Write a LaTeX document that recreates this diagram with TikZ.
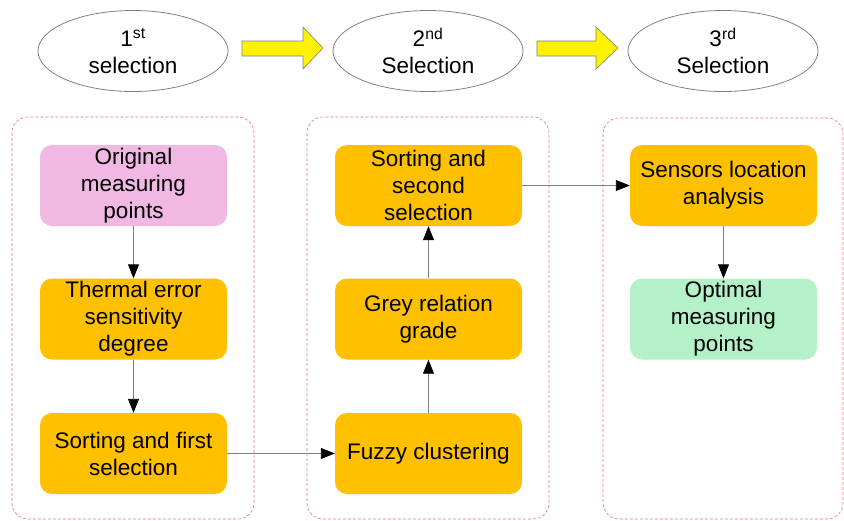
\documentclass[tikz,border=0pt]{standalone}
\usepackage{fontspec}
\setmainfont{Liberation Sans}
\usetikzlibrary{shapes.geometric,arrows.meta}
\definecolor{boxorange}{RGB}{255,192,0}
\definecolor{boxpink}{RGB}{240,184,226}
\definecolor{boxgreen}{RGB}{180,241,200}
\definecolor{framered}{RGB}{234,110,130}
\definecolor{linegrey}{RGB}{128,128,128}
\tikzset{
  stepbox/.style={rectangle,rounded corners=12pt,minimum width=187pt,minimum height=81pt,
    inner sep=0pt,align=center,font=\fontsize{22.5}{27}\selectfont},
  selbox/.style={ellipse,draw=linegrey,line width=0.8pt,minimum width=190pt,minimum height=81pt,
    inner sep=0pt,align=center,font=\fontsize{22.5}{27}\selectfont},
  frame/.style={draw=framered,dashed,dash pattern=on 3pt off 2pt,line width=0.6pt,rounded corners=16pt},
  flow/.style={draw=linegrey,line width=0.9pt,-{Triangle[length=14pt,width=11pt,color=black]}},
  bigarrow/.style={draw=linegrey,line width=0.6pt,fill=yellow}
}
\newcommand{\stepnode}[5]{\node[stepbox,fill=#4] (#1) at (#2,#3) {#5};}
\newcommand{\selnode}[4]{\node[selbox] (#1) at (#2,#3) {#4};}
\newcommand{\flowedge}[2]{\draw[flow] (#1) -- (#2);}

\begin{document}
\begin{tikzpicture}[x=1pt,y=-1pt]
	\useasboundingbox (0,0) rectangle (844,520);
	% selection stages
	\selnode{selA}{133}{51}{1\textsuperscript{st}\\selection}
	\selnode{selB}{428}{51}{2\textsuperscript{nd}\\Selection}
	\selnode{selC}{723}{51}{3\textsuperscript{rd}\\Selection}
	\filldraw[bigarrow] (242,41) -- (303,41) -- (303,27) -- (323,48) -- (303,69) -- (303,56) -- (242,56) -- cycle;
	\filldraw[bigarrow] (537,41) -- (596,41) -- (596,27) -- (618,48) -- (596,69) -- (596,56) -- (537,56) -- cycle;
	% frames
	\draw[frame] (12,117) rectangle (254,519);
	\draw[frame] (307,117) rectangle (549,519);
	\draw[frame] (603,118) rectangle (843,519);
	% first column
	\def\x{133.5}
	\stepnode{orig}{\x}{185.5}{boxpink}{Original\\measuring\\points}
	\stepnode{sens}{\x}{319}{boxorange}{Thermal error\\sensitivity\\degree}
	\stepnode{sortA}{\x}{453.5}{boxorange}{Sorting and first\\selection}
	% second column
	\def\x{428.5}
	\stepnode{sortB}{\x}{185.5}{boxorange}{Sorting and\\second\\selection}
	\stepnode{grey}{\x}{319}{boxorange}{Grey relation\\grade}
	\stepnode{fuzzy}{\x}{453.5}{boxorange}{Fuzzy clustering}
	% third column
	\def\x{723.5}
	\stepnode{loc}{\x}{185.5}{boxorange}{Sensors location\\analysis}
	\stepnode{opt}{\x}{319}{boxgreen}{Optimal\\measuring\\points}
	% connectors
	\flowedge{orig}{sens} \flowedge{sens}{sortA} \flowedge{sortA}{fuzzy}
	\flowedge{fuzzy}{grey} \flowedge{grey}{sortB} \flowedge{sortB}{loc}
	\flowedge{loc}{opt}
\end{tikzpicture}
\end{document}
